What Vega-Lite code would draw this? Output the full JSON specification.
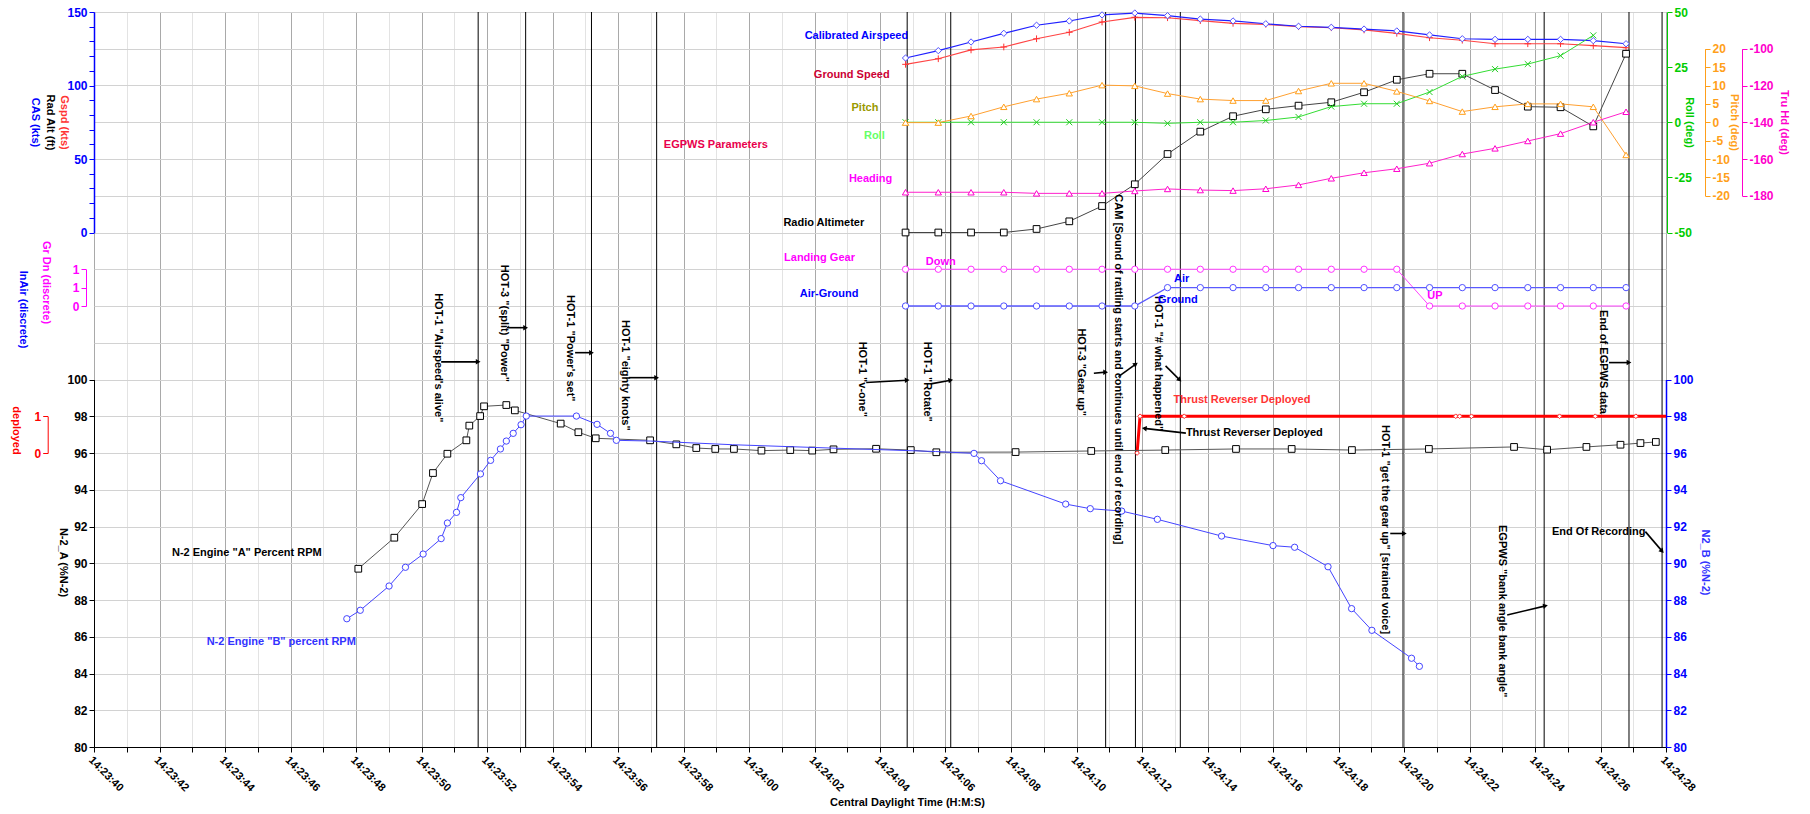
{
  "$schema": "https://vega.github.io/schema/vega-lite/v6.json",
  "width": 1572,
  "height": 735,
  "autosize": {"type": "none"},
  "padding": {"left": 94, "top": 12, "right": 144, "bottom": 67},
  "background": "white",
  "config": {
    "font": "Liberation Sans",
    "view": {"stroke": "#555555", "strokeWidth": 1},
    "axis": {"labelFont": "Liberation Sans", "titleFont": "Liberation Sans", "labelFontWeight": "bold", "titleFontWeight": "bold", "labelFontSize": 12, "titleFontSize": 11, "grid": false, "labelFlush": false, "labelOverlap": false, "tickSize": 5, "labelPadding": 2}
  },
  "datasets": {
    "fdr": [
      {"sec": 64.78, "cas": 118.7, "gspd": 114.4, "ralt": 0, "pitch": -0.1, "roll": 0, "hdg": -178.1, "gear": 1, "air": 0},
      {"sec": 65.78, "cas": 123.7, "gspd": 118.2, "ralt": 0, "pitch": -0.1, "roll": 0, "hdg": -178.1, "gear": 1, "air": 0},
      {"sec": 66.78, "cas": 129.6, "gspd": 124.2, "ralt": 0, "pitch": 1.7, "roll": 0, "hdg": -178.1, "gear": 1, "air": 0},
      {"sec": 67.78, "cas": 135.5, "gspd": 126.2, "ralt": 0, "pitch": 4.2, "roll": 0, "hdg": -178.1, "gear": 1, "air": 0},
      {"sec": 68.78, "cas": 141.0, "gspd": 131.8, "ralt": 2.4, "pitch": 6.3, "roll": 0, "hdg": -178.7, "gear": 1, "air": 0},
      {"sec": 69.78, "cas": 143.9, "gspd": 136.2, "ralt": 7.6, "pitch": 7.9, "roll": 0, "hdg": -178.7, "gear": 1, "air": 0},
      {"sec": 70.78, "cas": 148.0, "gspd": 143.2, "ralt": 18.0, "pitch": 10.1, "roll": 0, "hdg": -178.7, "gear": 1, "air": 0},
      {"sec": 71.78, "cas": 149.3, "gspd": 146.4, "ralt": 32.8, "pitch": 9.9, "roll": 0, "hdg": -177.4, "gear": 1, "air": 0},
      {"sec": 72.78, "cas": 147.5, "gspd": 146.1, "ralt": 53.4, "pitch": 7.8, "roll": -0.5, "hdg": -176.3, "gear": 1, "air": 1},
      {"sec": 73.78, "cas": 145.2, "gspd": 144.1, "ralt": 68.6, "pitch": 6.3, "roll": 0, "hdg": -176.9, "gear": 1, "air": 1},
      {"sec": 74.78, "cas": 143.9, "gspd": 142.3, "ralt": 79.1, "pitch": 5.9, "roll": 0, "hdg": -177.2, "gear": 1, "air": 1},
      {"sec": 75.78, "cas": 142.0, "gspd": 141.6, "ralt": 83.8, "pitch": 5.9, "roll": 0.8, "hdg": -176.2, "gear": 1, "air": 1},
      {"sec": 76.78, "cas": 140.3, "gspd": 140.0, "ralt": 86.3, "pitch": 8.5, "roll": 2.4, "hdg": -174.1, "gear": 1, "air": 1},
      {"sec": 77.78, "cas": 139.6, "gspd": 139.3, "ralt": 88.6, "pitch": 10.6, "roll": 7.1, "hdg": -170.5, "gear": 1, "air": 1},
      {"sec": 78.78, "cas": 138.4, "gspd": 137.8, "ralt": 95.4, "pitch": 10.6, "roll": 8.4, "hdg": -167.5, "gear": 1, "air": 1},
      {"sec": 79.78, "cas": 137.1, "gspd": 135.5, "ralt": 103.9, "pitch": 8.4, "roll": 8.4, "hdg": -165.3, "gear": 1, "air": 1},
      {"sec": 80.78, "cas": 134.4, "gspd": 132.5, "ralt": 108.0, "pitch": 5.8, "roll": 13.7, "hdg": -162.3, "gear": 0, "air": 1},
      {"sec": 81.78, "cas": 131.8, "gspd": 130.8, "ralt": 108.0, "pitch": 2.9, "roll": 20.8, "hdg": -157.3, "gear": 0, "air": 1},
      {"sec": 82.78, "cas": 131.4, "gspd": 128.4, "ralt": 96.9, "pitch": 4.2, "roll": 24.1, "hdg": -154.2, "gear": 0, "air": 1},
      {"sec": 83.78, "cas": 131.4, "gspd": 128.4, "ralt": 85.6, "pitch": 5.0, "roll": 26.4, "hdg": -150.2, "gear": 0, "air": 1},
      {"sec": 84.78, "cas": 131.4, "gspd": 128.4, "ralt": 85.2, "pitch": 5.0, "roll": 30.2, "hdg": -146.2, "gear": 0, "air": 1},
      {"sec": 85.78, "cas": 130.5, "gspd": 127.1, "ralt": 72.2, "pitch": 4.2, "roll": 39.4, "hdg": -140.0, "gear": 0, "air": 1},
      {"sec": 86.78, "cas": 128.4, "gspd": 125.7, "ralt": 121.6, "pitch": -8.9, "roll": null, "hdg": -134.3, "gear": 0, "air": 1}
    ],
    "n2a": [
      {"sec": 48.07, "v": 89.70}, {"sec": 49.17, "v": 91.39}, {"sec": 50.02, "v": 93.22}, {"sec": 50.35, "v": 94.91},
      {"sec": 50.79, "v": 95.96}, {"sec": 51.37, "v": 96.69}, {"sec": 51.46, "v": 97.49}, {"sec": 51.79, "v": 98.01},
      {"sec": 51.91, "v": 98.54}, {"sec": 52.59, "v": 98.61}, {"sec": 52.85, "v": 98.32}, {"sec": 54.25, "v": 97.60},
      {"sec": 54.79, "v": 97.13}, {"sec": 55.32, "v": 96.80}, {"sec": 56.98, "v": 96.69}, {"sec": 57.78, "v": 96.47},
      {"sec": 58.39, "v": 96.27}, {"sec": 58.97, "v": 96.22}, {"sec": 59.54, "v": 96.22}, {"sec": 60.38, "v": 96.13},
      {"sec": 61.26, "v": 96.16}, {"sec": 61.93, "v": 96.13}, {"sec": 62.58, "v": 96.20}, {"sec": 63.88, "v": 96.23},
      {"sec": 64.94, "v": 96.16}, {"sec": 65.72, "v": 96.04}, {"sec": 68.14, "v": 96.05}, {"sec": 70.45, "v": 96.11},
      {"sec": 72.71, "v": 96.16}, {"sec": 74.87, "v": 96.22}, {"sec": 76.57, "v": 96.22}, {"sec": 78.41, "v": 96.16},
      {"sec": 80.76, "v": 96.22}, {"sec": 83.36, "v": 96.33}, {"sec": 84.37, "v": 96.18}, {"sec": 85.57, "v": 96.33},
      {"sec": 86.61, "v": 96.45}, {"sec": 87.22, "v": 96.54}, {"sec": 87.69, "v": 96.60}
    ],
    "n2b": [
      {"sec": 47.72, "v": 86.98, "mk": true}, {"sec": 48.13, "v": 87.44, "mk": true}, {"sec": 49.01, "v": 88.76, "mk": true},
      {"sec": 49.51, "v": 89.78, "mk": true}, {"sec": 50.05, "v": 90.50, "mk": true}, {"sec": 50.60, "v": 91.34, "mk": true},
      {"sec": 50.79, "v": 92.19, "mk": true}, {"sec": 51.07, "v": 92.77, "mk": true}, {"sec": 51.20, "v": 93.57, "mk": true},
      {"sec": 51.80, "v": 94.86, "mk": true}, {"sec": 52.11, "v": 95.60, "mk": true}, {"sec": 52.41, "v": 96.22, "mk": true},
      {"sec": 52.59, "v": 96.65, "mk": true}, {"sec": 52.80, "v": 97.07, "mk": true}, {"sec": 53.04, "v": 97.54, "mk": true},
      {"sec": 53.20, "v": 98.01, "mk": true}, {"sec": 54.73, "v": 98.01, "mk": true}, {"sec": 55.36, "v": 97.56, "mk": true},
      {"sec": 55.77, "v": 97.07, "mk": true}, {"sec": 55.95, "v": 96.69, "mk": true},
      {"sec": 57.0, "v": 96.65, "mk": false}, {"sec": 59.5, "v": 96.45, "mk": false}, {"sec": 62.5, "v": 96.27, "mk": false},
      {"sec": 65.7, "v": 96.08, "mk": false},
      {"sec": 66.87, "v": 95.98, "mk": true}, {"sec": 67.10, "v": 95.58, "mk": true}, {"sec": 67.68, "v": 94.49, "mk": true},
      {"sec": 69.67, "v": 93.22, "mk": true}, {"sec": 70.42, "v": 92.97, "mk": true}, {"sec": 71.38, "v": 92.84, "mk": true},
      {"sec": 72.47, "v": 92.39, "mk": true}, {"sec": 74.43, "v": 91.48, "mk": true}, {"sec": 76.00, "v": 90.96, "mk": true},
      {"sec": 76.66, "v": 90.87, "mk": true}, {"sec": 77.68, "v": 89.81, "mk": true}, {"sec": 78.40, "v": 87.53, "mk": true},
      {"sec": 79.02, "v": 86.35, "mk": true}, {"sec": 80.23, "v": 84.83, "mk": true}, {"sec": 80.47, "v": 84.39, "mk": true}
    ],
    "tr": [
      {"sec": 71.85, "v": 0, "mk": true}, {"sec": 71.94, "v": 1, "mk": true}, {"sec": 73.29, "v": 1, "mk": true},
      {"sec": 81.58, "v": 1, "mk": true}, {"sec": 81.70, "v": 1, "mk": true}, {"sec": 82.06, "v": 1, "mk": true},
      {"sec": 84.75, "v": 1, "mk": true}, {"sec": 85.84, "v": 1, "mk": true}, {"sec": 87.08, "v": 1, "mk": true},
      {"sec": 88.0, "v": 1, "mk": false}
    ],
    "events": [
      {"sec": 51.73}, {"sec": 53.18}, {"sec": 55.19}, {"sec": 57.18}, {"sec": 64.83}, {"sec": 66.16}, {"sec": 70.89},
      {"sec": 71.80}, {"sec": 73.17}, {"sec": 79.97}, {"sec": 84.28}, {"sec": 86.87}, {"sec": 87.88}
    ],
    "labels": [
      {"sec": 61.70, "g": 19.35, "txt": "Calibrated Airspeed", "grp": "CAS"},
      {"sec": 61.98, "g": 18.29, "txt": "Ground Speed", "grp": "Gspd"},
      {"sec": 63.13, "g": 17.40, "txt": "Pitch", "grp": "Pitch"},
      {"sec": 63.51, "g": 16.63, "txt": "Roll", "grp": "Roll"},
      {"sec": 63.05, "g": 15.45, "txt": "Heading", "grp": "Hdg"},
      {"sec": 61.05, "g": 14.25, "txt": "Radio Altimeter", "grp": "Alt"},
      {"sec": 61.07, "g": 13.30, "txt": "Landing Gear", "grp": "Gear"},
      {"sec": 65.40, "g": 13.21, "txt": "Down", "grp": "Gear"},
      {"sec": 61.55, "g": 12.33, "txt": "Air-Ground", "grp": "Air"},
      {"sec": 72.98, "g": 12.73, "txt": "Air", "grp": "Air"},
      {"sec": 72.49, "g": 12.16, "txt": "Ground", "grp": "Air"},
      {"sec": 80.71, "g": 12.27, "txt": "UP", "grp": "Gear"},
      {"sec": 57.40, "g": 16.37, "txt": "EGPWS Parameters", "grp": "EGPWS"},
      {"sec": 42.38, "g": 5.27, "txt": "N-2 Engine \"A\" Percent RPM", "grp": "Alt"},
      {"sec": 43.44, "g": 2.85, "txt": "N-2 Engine \"B\" percent RPM", "grp": "N2B"},
      {"sec": 72.96, "g": 9.44, "txt": "Thrust Reverser Deployed", "grp": "TR"},
      {"sec": 73.34, "g": 8.54, "txt": "Thrust Reverser Deployed", "grp": "Alt"},
      {"sec": 84.52, "g": 5.84, "txt": "End Of Recording", "grp": "Alt"}
    ],
    "notes": [
      {"sec": 50.49, "g": 12.35, "txt": "HOT-1 \"Airspeed's alive\""},
      {"sec": 52.51, "g": 13.12, "txt": "HOT-3 \"(split) \"Power\""},
      {"sec": 54.53, "g": 12.30, "txt": "HOT-1 \"Power's set\""},
      {"sec": 56.20, "g": 11.62, "txt": "HOT-1 \"eighty knots\""},
      {"sec": 63.45, "g": 11.03, "txt": "HOT-1 \"v-one\""},
      {"sec": 65.44, "g": 11.03, "txt": "HOT-1 \"Rotate\""},
      {"sec": 70.13, "g": 11.39, "txt": "HOT-3 \"Gear up\""},
      {"sec": 71.28, "g": 15.04, "txt": "CAM [Sound of rattling starts and continues until end of recording]"},
      {"sec": 72.50, "g": 12.27, "txt": "HOT-1 \"# what happened\""},
      {"sec": 79.41, "g": 8.76, "txt": "HOT-1 \"get the gear up\" [strained voice]"},
      {"sec": 83.00, "g": 6.04, "txt": "EGPWS \"bank angle bank angle\""},
      {"sec": 86.08, "g": 11.89, "txt": "End of EGPWS data"}
    ],
    "arrows": [
      {"sec": 51.73, "g": 10.48, "sec0": 50.60, "g0": 10.48, "bearing": 0},
      {"sec": 53.18, "g": 11.41, "sec0": 52.61, "g0": 11.41, "bearing": 0},
      {"sec": 55.19, "g": 10.73, "sec0": 54.69, "g0": 10.73, "bearing": 0},
      {"sec": 57.18, "g": 10.05, "sec0": 56.33, "g0": 10.05, "bearing": 0},
      {"sec": 64.83, "g": 9.98, "sec0": 63.58, "g0": 9.92, "bearing": 357},
      {"sec": 66.16, "g": 9.98, "sec0": 65.55, "g0": 9.88, "bearing": 350},
      {"sec": 70.89, "g": 10.20, "sec0": 70.53, "g0": 10.17, "bearing": 0},
      {"sec": 71.81, "g": 10.42, "sec0": 71.28, "g0": 10.08, "bearing": 324},
      {"sec": 73.15, "g": 9.99, "sec0": 72.72, "g0": 10.37, "bearing": 45},
      {"sec": 72.07, "g": 8.67, "sec0": 73.34, "g0": 8.54, "bearing": 187},
      {"sec": 80.01, "g": 5.81, "sec0": 79.58, "g0": 5.81, "bearing": 0},
      {"sec": 84.32, "g": 3.84, "sec0": 83.15, "g0": 3.59, "bearing": 347},
      {"sec": 86.87, "g": 10.46, "sec0": 86.26, "g0": 10.46, "bearing": 0},
      {"sec": 87.88, "g": 5.33, "sec0": 87.37, "g0": 5.86, "bearing": 49}
    ]
  },
  "encoding": {
    "x": {
      "field": "sec", "type": "quantitative",
      "scale": {"domain": [40, 88], "nice": false, "zero": false},
      "axis": {
        "values": [40,41,42,43,44,45,46,47,48,49,50,51,52,53,54,55,56,57,58,59,60,61,62,63,64,65,66,67,68,69,70,71,72,73,74,75,76,77,78,79,80,81,82,83,84,85,86,87,88],
        "labelExpr": "datum.value % 2 ? '' : (datum.value < 60 ? '14:23:' + datum.value : '14:24:' + (datum.value < 70 ? '0' : '') + (datum.value - 60))",
        "labelAngle": 45, "labelAlign": "left", "labelBaseline": "top", "labelFontSize": 11, "labelColor": "#000000",
        "tickColor": "#000000", "domainColor": "#000000",
        "grid": true,
        "gridColor": {"condition": {"test": "datum.value % 2 == 0", "value": "#a9a9a9"}, "value": "#e3e3e3"},
        "title": "Central Daylight Time (H:M:S)", "titleX": 813, "titleY": 55, "titleAlign": "center", "titleBaseline": "middle", "titleColor": "#000000"
      }
    }
  },
  "layer": [
    {
      "data": {"values": [{"sec": 40, "g": 0}, {"sec": 88, "g": 20}]},
      "mark": {"type": "point", "opacity": 0},
      "encoding": {"y": {"field": "g", "type": "quantitative", "scale": {"domain": [0, 20], "range": [735, 0], "nice": false, "zero": false},
        "axis": {"orient": "left", "grid": true, "gridColor": "#d2d2d2", "values": [0,1,2,3,4,5,6,7,8,9,10,11,12,13,14,15,16,17,18,19,20], "labels": false, "ticks": false, "domain": false, "title": null}}}
    },
    {
      "data": {"name": "events"},
      "mark": {"type": "rule", "color": "#000000", "strokeWidth": 1},
      "encoding": {}
    },
    {
      "data": {"name": "fdr"},
      "mark": {"type": "line", "color": "#ff4444", "strokeWidth": 1.2, "point": {"shape": "M-1,0L1,0M0,-1L0,1", "filled": false, "stroke": "#ff3333", "size": 45, "strokeWidth": 1}},
      "encoding": {"y": {"field": "gspd", "type": "quantitative", "scale": {"domain": [0, 150], "range": [220.5, 0], "nice": false, "zero": false},
        "axis": {"orient": "left", "domain": false, "ticks": false, "labels": false, "title": "Gspd (kts)", "titleColor": "#ff3333", "titleAngle": 90, "titleX": -30.7, "titleY": 110, "titleAlign": "center", "titleBaseline": "middle"}}}
    },
    {
      "data": {"name": "fdr"},
      "mark": {"type": "line", "color": "#2020ff", "strokeWidth": 1.2, "point": {"shape": "diamond", "filled": true, "fill": "white", "stroke": "#5050ff", "size": 40, "strokeWidth": 1}},
      "encoding": {"y": {"field": "cas", "type": "quantitative", "scale": {"domain": [0, 150], "range": [220.5, 0], "nice": false, "zero": false},
        "axis": {"orient": "left", "values": [0,10,20,30,40,50,60,70,80,90,100,110,120,130,140,150], "labelExpr": "datum.value % 50 ? '' : datum.label", "labelColor": "#0000ff", "tickColor": "#0000ff", "domainColor": "#0000ff", "domainWidth": 1.5, "title": "CAS (kts)", "titleColor": "#0000ff", "titleAngle": 90, "titleX": -59.7, "titleY": 110, "titleAlign": "center", "titleBaseline": "middle"}}}
    },
    {
      "data": {"name": "fdr"},
      "mark": {"type": "line", "color": "#444444", "strokeWidth": 1, "point": {"shape": "square", "filled": true, "fill": "white", "stroke": "#000000", "size": 45, "strokeWidth": 1}},
      "encoding": {"y": {"field": "ralt", "type": "quantitative", "scale": {"domain": [0, 150], "range": [220.5, 0], "nice": false, "zero": false},
        "axis": {"orient": "left", "domain": false, "ticks": false, "labels": false, "title": "Rad Alt (ft)", "titleColor": "#000000", "titleAngle": 90, "titleX": -45, "titleY": 110, "titleAlign": "center", "titleBaseline": "middle"}}}
    },
    {
      "data": {"name": "fdr"},
      "mark": {"type": "line", "color": "#33dd33", "strokeWidth": 1, "point": {"shape": "M-1,-1L1,1M-1,1L1,-1", "filled": false, "stroke": "#22cc22", "size": 36, "strokeWidth": 1}},
      "encoding": {"y": {"field": "roll", "type": "quantitative", "scale": {"domain": [-50, 50], "range": [220.5, 0], "nice": false, "zero": false},
        "axis": {"orient": "right", "offset": 1, "values": [-50, -25, 0, 25, 50], "labelExpr": "'' + datum.value", "labelColor": "#00cc00", "tickColor": "#00cc00", "domainColor": "#00cc00", "title": "Roll (deg)", "titleColor": "#00cc00", "titleAngle": 90, "titleX": 21, "titleY": 110, "titleAlign": "center", "titleBaseline": "middle"}}}
    },
    {
      "data": {"name": "fdr"},
      "mark": {"type": "line", "color": "#ffa030", "strokeWidth": 1, "point": {"shape": "triangle-up", "filled": true, "fill": "white", "stroke": "#ff9f1a", "size": 40, "strokeWidth": 1}},
      "encoding": {"y": {"field": "pitch", "type": "quantitative", "scale": {"domain": [-20, 20], "range": [183.75, 36.75], "nice": false, "zero": false},
        "axis": {"orient": "right", "offset": 39, "values": [-20, -15, -10, -5, 0, 5, 10, 15, 20], "labelExpr": "'' + datum.value", "labelColor": "#ff9f1a", "tickColor": "#ff9f1a", "domainColor": "#ff9f1a", "title": "Pitch (deg)", "titleColor": "#ff9f1a", "titleAngle": 90, "titleX": 28.3, "titleY": 110, "titleAlign": "center", "titleBaseline": "middle"}}}
    },
    {
      "data": {"name": "fdr"},
      "mark": {"type": "line", "color": "#ff22cc", "strokeWidth": 1, "point": {"shape": "triangle-up", "filled": true, "fill": "white", "stroke": "#ff00cc", "size": 40, "strokeWidth": 1}},
      "encoding": {"y": {"field": "hdg", "type": "quantitative", "scale": {"domain": [-180, -100], "range": [183.75, 36.75], "nice": false, "zero": false},
        "axis": {"orient": "right", "offset": 76, "values": [-180, -160, -140, -120, -100], "labelExpr": "'' + datum.value", "labelColor": "#ff00cc", "tickColor": "#ff00cc", "domainColor": "#ff00cc", "title": "Tru Hd (deg)", "titleColor": "#ff00cc", "titleAngle": 90, "titleX": 41, "titleY": 110, "titleAlign": "center", "titleBaseline": "middle"}}}
    },
    {
      "data": {"name": "fdr"},
      "mark": {"type": "line", "color": "#ff44ff", "strokeWidth": 1, "point": {"shape": "circle", "filled": true, "fill": "white", "stroke": "#ff33ff", "size": 40, "strokeWidth": 1}},
      "encoding": {"y": {"field": "gear", "type": "quantitative", "scale": {"domain": [0, 1], "range": [294, 257.25], "nice": false, "zero": false},
        "axis": {"orient": "left", "offset": 8, "values": [0, 0.5, 1], "labelExpr": "datum.value == 0 ? '0' : '1'", "labelColor": "#ff00ff", "tickColor": "#ff00ff", "domainColor": "#ff00ff", "title": "Gr Dn (discrete)", "titleColor": "#ff00ff", "titleAngle": 90, "titleX": -41, "titleY": 270, "titleAlign": "center", "titleBaseline": "middle"}}}
    },
    {
      "data": {"name": "fdr"},
      "mark": {"type": "line", "color": "#5a5aff", "strokeWidth": 1.3, "point": {"shape": "circle", "filled": true, "fill": "white", "stroke": "#5050ff", "size": 40, "strokeWidth": 1}},
      "encoding": {"y": {"field": "air", "type": "quantitative", "scale": {"domain": [0, 2], "range": [294, 257.25], "nice": false, "zero": false},
        "axis": {"orient": "left", "offset": 8, "domain": false, "ticks": false, "labels": false, "title": "InAir (discrete)", "titleColor": "#0000ff", "titleAngle": 90, "titleX": -63.3, "titleY": 297, "titleAlign": "center", "titleBaseline": "middle"}}}
    },
    {
      "data": {"name": "tr"},
      "mark": {"type": "line", "color": "#ff0000", "strokeWidth": 3},
      "encoding": {"y": {"field": "v", "type": "quantitative", "scale": {"domain": [0, 1], "range": [441, 404.25], "nice": false, "zero": false},
        "axis": {"orient": "left", "offset": 46.3, "values": [0, 1], "labelExpr": "'' + datum.value", "labelColor": "#ff0000", "tickColor": "#ff0000", "domainColor": "#ff0000", "title": "deployed", "titleColor": "#ff0000", "titleAngle": 90, "titleX": -32.7, "titleY": 418, "titleAlign": "center", "titleBaseline": "middle"}}}
    },
    {
      "data": {"name": "tr"},
      "transform": [{"filter": "datum.mk"}],
      "mark": {"type": "point", "shape": "diamond", "filled": true, "fill": "white", "stroke": "#ff3333", "size": 22, "strokeWidth": 1, "opacity": 1},
      "encoding": {"y": {"field": "v", "type": "quantitative", "scale": {"domain": [0, 1], "range": [441, 404.25], "nice": false, "zero": false}, "axis": null}}
    },
    {
      "data": {"name": "n2a"},
      "mark": {"type": "line", "color": "#555555", "strokeWidth": 1, "point": {"shape": "square", "filled": true, "fill": "white", "stroke": "#000000", "size": 45, "strokeWidth": 1}},
      "encoding": {"y": {"field": "v", "type": "quantitative", "scale": {"domain": [80, 100], "range": [735, 367.5], "nice": false, "zero": false},
        "axis": {"orient": "left", "values": [80, 82, 84, 86, 88, 90, 92, 94, 96, 98, 100], "labelColor": "#000000", "tickColor": "#000000", "domainColor": "#000000", "title": "N-2_A (%N-2)", "titleColor": "#000000", "titleAngle": 90, "titleX": -31.7, "titleY": 550, "titleAlign": "center", "titleBaseline": "middle"}}}
    },
    {
      "data": {"name": "n2b"},
      "mark": {"type": "line", "color": "#4444ff", "strokeWidth": 1},
      "encoding": {"y": {"field": "v", "type": "quantitative", "scale": {"domain": [80, 100], "range": [735, 367.5], "nice": false, "zero": false},
        "axis": {"orient": "right", "values": [80, 82, 84, 86, 88, 90, 92, 94, 96, 98, 100], "labelColor": "#0000ff", "tickColor": "#0000ff", "domainColor": "#0000ff", "domainWidth": 1.5, "title": "N2_B (%N-2)", "titleColor": "#3333ff", "titleAngle": 90, "titleX": 38.6, "titleY": 550, "titleAlign": "center", "titleBaseline": "middle"}}}
    },
    {
      "data": {"name": "n2b"},
      "transform": [{"filter": "datum.mk"}],
      "mark": {"type": "point", "shape": "circle", "filled": true, "fill": "white", "stroke": "#4444ff", "size": 40, "strokeWidth": 1, "opacity": 1},
      "encoding": {"y": {"field": "v", "type": "quantitative", "scale": {"domain": [80, 100], "range": [735, 367.5], "nice": false, "zero": false}, "axis": null}}
    },
    {
      "data": {"name": "arrows"},
      "mark": {"type": "rule", "color": "#000000", "strokeWidth": 1.6},
      "encoding": {
        "x2": {"field": "sec0"},
        "y": {"field": "g", "type": "quantitative", "scale": {"domain": [0, 20], "range": [735, 0], "nice": false, "zero": false}, "axis": null},
        "y2": {"field": "g0"}
      }
    },
    {
      "data": {"name": "arrows"},
      "mark": {"type": "point", "shape": "triangle-right", "filled": true, "color": "#000000", "size": 30, "opacity": 1},
      "encoding": {
        "y": {"field": "g", "type": "quantitative", "scale": {"domain": [0, 20], "range": [735, 0], "nice": false, "zero": false}, "axis": null},
        "angle": {"field": "bearing", "type": "quantitative", "scale": {"domain": [0, 360], "range": [0, 360]}, "legend": null}
      }
    },
    {
      "data": {"name": "notes"},
      "mark": {"type": "text", "font": "Liberation Sans", "fontWeight": "bold", "fontSize": 11, "align": "left", "baseline": "middle", "angle": 90, "color": "#000000"},
      "encoding": {
        "y": {"field": "g", "type": "quantitative", "scale": {"domain": [0, 20], "range": [735, 0], "nice": false, "zero": false}, "axis": null},
        "text": {"field": "txt"}
      }
    },
    {
      "data": {"name": "labels"},
      "mark": {"type": "text", "font": "Liberation Sans", "fontWeight": "bold", "fontSize": 11, "align": "left", "baseline": "middle"},
      "encoding": {
        "y": {"field": "g", "type": "quantitative", "scale": {"domain": [0, 20], "range": [735, 0], "nice": false, "zero": false}, "axis": null},
        "text": {"field": "txt"},
        "color": {"field": "grp", "type": "nominal", "legend": null,
          "scale": {"domain": ["CAS", "Gspd", "Pitch", "Roll", "Hdg", "Alt", "Gear", "Air", "EGPWS", "N2B", "TR"],
                    "range": ["#0000ff", "#cc0033", "#999900", "#66ff66", "#ff00ff", "#000000", "#ff00ff", "#0000ff", "#e8004c", "#3333ff", "#ff3333"]}}
      }
    }
  ],
  "resolve": {"scale": {"y": "independent"}, "axis": {"y": "independent"}}
}
